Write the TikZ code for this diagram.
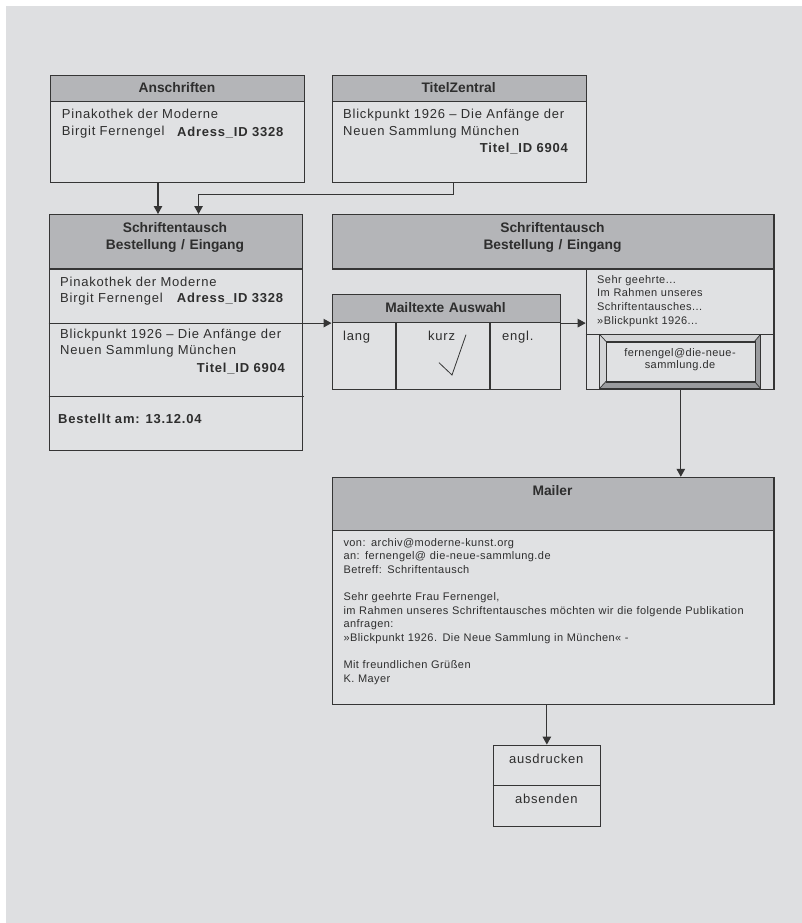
\documentclass[tikz,border=0pt]{standalone}
\usepackage{fontspec}
\setmainfont{Liberation Sans}
\newfontfamily\spcfont{Liberation Sans}[LetterSpace=6]
\newfontfamily\smlfont{Liberation Sans}[LetterSpace=4]
\usetikzlibrary{arrows.meta, calc, positioning}
\definecolor{bggray}{HTML}{DEDFE1}
\definecolor{hdgray}{HTML}{B4B5B8}
\definecolor{bodygray}{HTML}{E0E1E3}
\definecolor{lngray}{HTML}{353535}
\definecolor{txtgray}{HTML}{2E2E2E}
\definecolor{bevdark}{HTML}{9A9B9E}
\definecolor{bevlight}{HTML}{D4D5D7}
\tikzset{
  box/.style={draw=lngray, fill=bodygray, line width=1.1pt, inner sep=0pt, anchor=north west},
  hdr/.style={box, fill=hdgray},
  ln/.style={draw=lngray, line width=1.1pt},
  arr/.style={ln, -{Triangle[length=8pt, width=8.5pt]}},
  hd/.style={font=\fontsize{13.8}{17}\selectfont\bfseries, text=txtgray, inner sep=0pt,
    anchor=base, text width=240pt, align=center},
  txt/.style={font=\spcfont\fontsize{13}{16.8}\selectfont, text=txtgray, inner sep=0pt,
    anchor=base west, text width=250pt, align=left},
  idt/.style={font=\spcfont\fontsize{13}{16.8}\selectfont\bfseries, text=txtgray, inner sep=0pt,
    anchor=base east},
  sml/.style={font=\smlfont\fontsize{11}{13.6}\selectfont, text=txtgray, inner sep=0pt,
    anchor=base west, text width=420pt, align=left},
  btntxt/.style={sml, anchor=base, text width=150pt, align=center,
    font=\smlfont\fontsize{11}{11.6}\selectfont},
  ctr/.style={txt, anchor=base, text width=100pt, align=center},
}

\begin{document}
\begin{tikzpicture}[x=1pt, y=-1pt]
  % page
  \useasboundingbox (0,0) rectangle (802,923);
  \fill[bggray] (6,6) rectangle (802,923);

  % Anschriften
  \node[box, minimum width=254.7pt, minimum height=107.2pt] (ansch) at (49.6,74.7) {};
  \node[hdr, minimum width=254.7pt, minimum height=25.9pt] (anschH) at (ansch.north west) {};
  \node[hd] (anschT) at (177,92.6) {Anschriften};
  \node[txt] (anschA) at (61.7,119) {Pinakothek der Moderne\\Birgit Fernengel};
  \node[idt, anchor=base west] (anschI) at (177,136) {Adress\_ID 3328};

  % TitelZentral
  \node[box, minimum width=254.2pt, minimum height=107.2pt] (titel) at (331.5,74.7) {};
  \node[hdr, minimum width=254.2pt, minimum height=25.9pt] (titelH) at (titel.north west) {};
  \node[hd] (titelT) at (458.6,92.6) {TitelZentral};
  \node[txt] (titelA) at (343,119) {Blickpunkt 1926 – Die Anfänge der\\Neuen Sammlung München};
  \node[idt] (titelI) at (568,153) {Titel\_ID 6904};

  % Schriftentausch, left
  \node[box, minimum width=253.2pt, minimum height=236pt] (schrL) at (48.6,214) {};
  \node[hdr, minimum width=253.2pt, minimum height=54.4pt] (schrLH) at (schrL.north west) {};
  \node[hd] (schrLT) at (175,232) {Schriftentausch\\Bestellung / Eingang};
  \node[txt] (schrLA) at (60,286) {Pinakothek der Moderne\\Birgit Fernengel};
  \node[idt, anchor=base west] (schrLI) at (176.7,302.7) {Adress\_ID 3328};
  \node[txt] (schrLB) at (60,338) {Blickpunkt 1926 – Die Anfänge der\\Neuen Sammlung München};
  \node[idt] (schrLJ) at (285,372.3) {Titel\_ID 6904};
  \draw[ln] (schrL.west |- 0,396.7) -- (304,396.7);
  \node[idt, anchor=base west] (schrLD) at (58,423.3) {Bestellt am: 13.12.04};

  % Schriftentausch, right
  \node[box, minimum width=187.7pt, minimum height=120.1pt] (brief) at (585.7,268.4) {};
  \node[hdr, minimum width=441.9pt, minimum height=54.4pt] (schrR) at (331.5,214) {};
  \node[hd] (schrRT) at (552.5,232) {Schriftentausch\\Bestellung / Eingang};
  \draw[ln] (brief.west |- 0,334.3) -- (brief.east |- 0,334.3);
  \node[sml] (briefT) at (597,283.3) {Sehr geehrte...\\Im Rahmen unseres\\Schriftentausches...\\»Blickpunkt 1926...};
  % bevelled button
  \fill[bevlight] (599.5,334.3) rectangle (760.6,388.5);
  \fill[bevdark] (760.6,334.3) -- (754.5,341.4) -- (754.5,381.4) -- (760.6,388.5) -- cycle;
  \fill[bevdark] (599.5,388.5) -- (606,381.4) -- (754.5,381.4) -- (760.6,388.5) -- cycle;
  \draw[ln, line width=0.7pt] (599.5,334.3) -- (606,341.4) (760.6,334.3) -- (754.5,341.4)
    (599.5,388.5) -- (606,381.4) (760.6,388.5) -- (754.5,381.4);
  \draw[ln] (599.5,334.3) rectangle (760.6,388.5);
  \node[box, minimum width=148.5pt, minimum height=40pt] (btn) at (606,341.4) {};
  \node[btntxt] (btnT) at (680,356.7) {fernengel@die-neue-\\sammlung.de};

  % Mailtexte Auswahl
  \node[box, minimum width=228.1pt, minimum height=94.2pt] (auswahl) at (331.5,294.3) {};
  \node[hdr, minimum width=228.1pt, minimum height=27.7pt] (auswahlH) at (auswahl.north west) {};
  \node[hd] (auswahlT) at (445.5,312.7) {Mailtexte Auswahl};
  \draw[ln] (auswahlH.south -| 396,0) -- (auswahl.south -| 396,0);
  \draw[ln] (auswahlH.south -| 490,0) -- (auswahl.south -| 490,0);
  \node[txt] (lang) at (343,340) {lang};
  \node[txt] (kurz) at (428,340) {kurz};
  \node[txt] (engl) at (502,340) {engl.};
  \draw[ln, line width=0.8pt] (439,362.7) -- (452,375) -- (466,334.7);

  % Mailer
  \node[box, minimum width=441.9pt, minimum height=227.2pt] (mailer) at (331.5,476.8) {};
  \node[hdr, minimum width=441.9pt, minimum height=52.9pt] (mailerH) at (mailer.north west) {};
  \node[hd] (mailerT) at (552.5,495) {Mailer};
  \node[sml] (mailerA) at (343.3,546) {von: archiv@moderne-kunst.org\\
    an: fernengel@ die-neue-sammlung.de\\Betreff: Schriftentausch\\[13.6pt]
    Sehr geehrte Frau Fernengel,\\
    im Rahmen unseres Schriftentausches möchten wir die folgende Publikation\\
    anfragen:\\»Blickpunkt 1926. Die Neue Sammlung in München« -\\[13.6pt]
    Mit freundlichen Grüßen\\K. Mayer};

  % ausdrucken / absenden
  \node[box, minimum width=107.4pt, minimum height=81.2pt] (act) at (492.6,744.6) {};
  \draw[ln] (act.west |- 0,785.7) -- (act.east |- 0,785.7);
  \node[ctr] (print) at (546.3,763.3) {ausdrucken};
  \node[ctr] (send) at (546.3,803.3) {absenden};

  % connectors
  \coordinate (a1) at ([xshift=-19.5pt]ansch.south);
  \draw[arr] (a1) -- (a1 |- schrL.north);
  \coordinate (a2) at ([xshift=-5.9pt]titel.south);
  \coordinate (a2k) at ([xshift=22.8pt]schrL.north);
  \draw[arr] (a2) -- (a2 |- 0,194.8) -| (a2k);
  \draw[arr] (schrL.west |- auswahlH.south) -- (auswahlH.south west);
  \draw[arr] (auswahlH.south east) -- (brief.west |- auswahlH.south);
  \draw[arr] (btn.south |- brief.south) -- (btn.south |- mailer.north);
  \draw[arr] (act.north |- mailer.south) -- (act.north);
\end{tikzpicture}
\end{document}
